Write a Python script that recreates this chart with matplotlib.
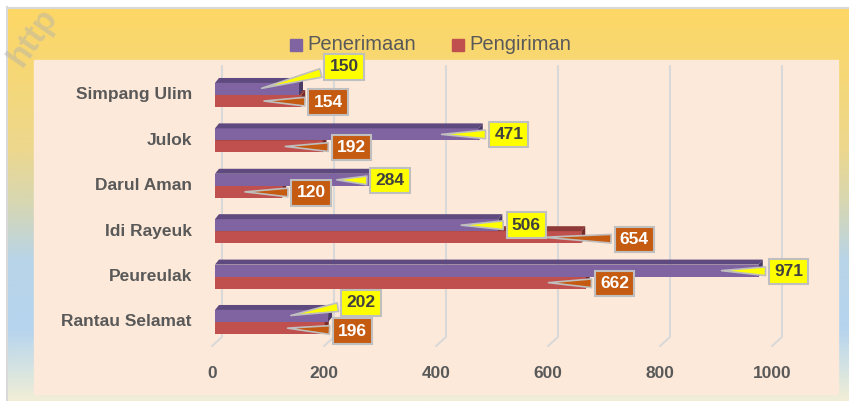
import numpy as np
import matplotlib
matplotlib.use('Agg')
import matplotlib.pyplot as plt
from matplotlib.colors import LinearSegmentedColormap

plt.rcParams['font.family'] = ['Liberation Sans', 'DejaVu Sans']

# data
kecamatan = ['Simpang Ulim', 'Julok', 'Darul Aman', 'Idi Rayeuk', 'Peureulak', 'Rantau Selamat']
penerimaan = [150, 471, 284, 506, 971, 202]
pengiriman = [154, 192, 120, 654, 662, 196]
x_ticks = [0, 200, 400, 600, 800, 1000]

# label box offsets (pixels, from the leader point)
pen_offsets = [(85, 22), (70, 0), (56, -1), (68, 0), (70, -1), (73, 13)]
pgr_offsets = [(67, -1), (69, -1), (69, -1), (93, -2), (69, -1), (68, -3)]

W, H = 849, 401
fig = plt.figure(figsize=(W / 100, H / 100), dpi=100)

# background (pixel coordinates)
bg = fig.add_axes([0, 0, 1, 1])
bg.set_xlim(0, W)
bg.set_ylim(H, 0)
bg.axis('off')
stops = [(8, '#fdd866'), (60, '#f8d772'), (150, '#ecd78e'), (205, '#d6d7b4'),
         (260, '#b8d4e8'), (330, '#b6d4ee'), (370, '#d6e4e2'), (401, '#f2eed6')]
cmap = LinearSegmentedColormap.from_list(
    'bg', [((s - 8) / (401 - 8), c) for s, c in stops])
grad = np.linspace(0, 1, 256).reshape(-1, 1)
bg.imshow(grad, cmap=cmap, aspect='auto', extent=[7, W, H, 8], zorder=0)
bg.plot([7, W], [7.5, 7.5], color='#d9d9d9', lw=1.5, zorder=1)
bg.plot([7.5, 7.5], [7, H], color='#d9d9d9', lw=1.5, zorder=1)
bg.add_patch(plt.Rectangle((34, 60), 804, 334, color='#fde9d9', zorder=1))
bg.text(2, 72, 'http', rotation=55, fontsize=24, fontweight='bold',
        ha='left', va='bottom', color='#b0b0b0', alpha=0.45, zorder=2)

# legend
bg.add_patch(plt.Rectangle((290, 39), 12, 12, color='#8064a2', zorder=2))
bg.text(307, 45, 'Penerimaan', fontsize=14.5, color='#595959', va='center', zorder=2)
bg.add_patch(plt.Rectangle((452, 39), 12, 12, color='#c0504d', zorder=2))
bg.text(469, 45, 'Pengiriman', fontsize=14.5, color='#595959', va='center', zorder=2)

# main axes
px_per_unit = 0.56
row_px = 45.4
zero_px = 215
left_px, right_px, top_px, bot_px = 34, 838, 60, 394
ax = fig.add_axes([left_px / W, (H - bot_px) / H, (right_px - left_px) / W, (bot_px - top_px) / H])
ax.set_facecolor('none')
ax.set_xlim(-(zero_px - left_px) / px_per_unit, (right_px - zero_px) / px_per_unit)
ax.set_ylim((bot_px - 95) / row_px, (top_px - 95) / row_px)
ax.axis('off')

back = 7 / px_per_unit
front = -3 / px_per_unit
y_back_bot = (337 - 95) / row_px
y_front = (346 - 95) / row_px
y_top = (66 - 95) / row_px
for t in x_ticks:
    ax.plot([t + back, t + back, t + front], [y_top, y_back_bot, y_front],
            color='#d9d9d9', lw=1.5, zorder=1)
    ax.text(t + front, (373 - 95) / row_px, str(t), ha='center', va='center',
            fontsize=12.5, fontweight='bold', color='#595959')

h = 0.265
dx = 4 / px_per_unit
dy = 5 / row_px


def bar3d(v, y0, y1, front_c, top_c, side_c, z):
    ax.fill([0, v, v, 0], [y0, y0, y1, y1], color=front_c, zorder=z, lw=0)
    ax.fill([0, dx, v + dx, v], [y0, y0 - dy, y0 - dy, y0], color=top_c, zorder=z, lw=0)
    ax.fill([v, v + dx, v + dx, v], [y0, y0 - dy, y1 - dy, y1], color=side_c, zorder=z, lw=0)


for i, name in enumerate(kecamatan):
    bar3d(pengiriman[i], i, i + h, '#c0504d', '#8e3a38', '#772c2a', 2 + i * 0.1)
    bar3d(penerimaan[i], i - h, i, '#8064a2', '#5f4a80', '#4a3a66', 2.05 + i * 0.1)
    ax.text((192 - zero_px) / px_per_unit, i, name, ha='right', va='center',
            fontsize=12.5, fontweight='bold', color='#595959')

lead = 40 / px_per_unit
for i in range(len(kecamatan)):
    for val, yy, off, fc, tc in [
            (penerimaan[i], i - h / 2, pen_offsets[i], '#ffff00', '#404040'),
            (pengiriman[i], i + h / 2, pgr_offsets[i], '#c55a11', 'white')]:
        ax.annotate(str(val), xy=(val - lead, yy), xytext=off, textcoords='offset pixels',
                    ha='center', va='center', fontsize=12.5, fontweight='bold', color=tc,
                    zorder=5,
                    bbox=dict(boxstyle='square,pad=0.3', fc=fc, ec='#bfbfbf', lw=1.5),
                    arrowprops=dict(arrowstyle='wedge,tail_width=0.5,shrink_factor=0.5',
                                    fc=fc, ec='#bfbfbf', lw=1.2))

fig.savefig('out.png', dpi=100)
